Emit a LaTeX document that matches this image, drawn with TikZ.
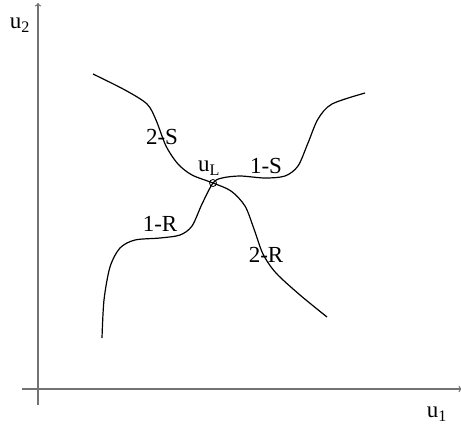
\documentclass[tikz,border=0pt]{standalone}
\usepackage{fontspec}
\setmainfont{Liberation Serif}
\begin{document}
\begin{tikzpicture}[x=1pt,y=-1pt,line width=1.2pt,
  lbl/.style={font=\fontsize{23}{26}\selectfont,inner sep=0pt},
  axis/.style={draw=black!55,line width=1.3pt,->}]
\useasboundingbox (0,0) rectangle (461,429);

% axes
\coordinate (O) at (38,389);
\coordinate (xend) at (462,389);
\coordinate (yend) at (38,3);
\draw[axis] (22,389) -- (xend);
\draw[axis] (38,405) -- (yend);
\node[lbl] (u2) at (20,25) {u\textsubscript{2}};
\node[lbl] (u1) at (437,414) {u\textsubscript{1}};

% state u_L
\coordinate (uL) at (213,183);

% wave curves
\draw plot[smooth] coordinates {(93,74) (125,90) (147,104) (156,120) (166,146) (178,164) (192,175) (uL)
  (231,191) (245,206) (254,229) (263,254) (276,273) (300,295) (327,317)};
\draw plot[smooth] coordinates {(102,338) (104,300) (110,267) (120,248) (135,240) (160,238) (180,235)
  (192,226) (202,204) (uL) (222,178) (240,176) (265,178) (285,176) (298,166) (308,143) (318,119) (332,104) (365,93)};
\draw[line width=0.8pt] (uL) circle (3.5);

\node[lbl] (uLlbl) at (209,168) {u\textsubscript{L}};
\node[lbl] (s2) at (162,137) {2-S};
\node[lbl] (s1) at (266,166) {1-S};
\node[lbl] (r1) at (160,224) {1-R};
\node[lbl] (r2) at (266,255) {2-R};
\end{tikzpicture}
\end{document}
